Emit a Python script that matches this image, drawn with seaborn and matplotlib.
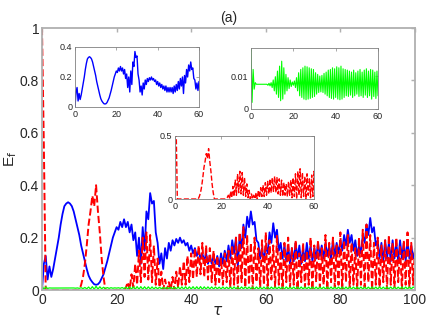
import numpy as np
import matplotlib
matplotlib.use("Agg")
import matplotlib.pyplot as plt
import seaborn as sns

# time grid, step 0.5
tau = np.arange(0, 100.5, 0.5)

blue_vals = [
    0.00, 0.10, 0.13, 0.04, 0.09, 0.05, 0.08, 0.12, 0.16, 0.20,
    0.25, 0.29, 0.32, 0.33, 0.335, 0.33, 0.32, 0.30, 0.27, 0.24,
    0.21, 0.17, 0.14, 0.11, 0.08, 0.055, 0.04, 0.03, 0.022, 0.02,
    0.022, 0.03, 0.045, 0.06, 0.085, 0.11, 0.14, 0.17, 0.20, 0.22,
    0.24, 0.23, 0.26, 0.24, 0.27, 0.24, 0.26, 0.22, 0.25, 0.19,
    0.22, 0.13, 0.20, 0.10, 0.24, 0.15, 0.30, 0.27, 0.37, 0.33,
    0.34, 0.22, 0.18, 0.10, 0.14, 0.08, 0.16, 0.12, 0.18, 0.15,
    0.19, 0.17, 0.195, 0.18, 0.20, 0.18, 0.19, 0.17, 0.18, 0.15,
    0.17, 0.14, 0.16, 0.13, 0.15, 0.12, 0.14, 0.11, 0.14, 0.10,
    0.13, 0.10, 0.13, 0.10, 0.13, 0.09, 0.14, 0.10, 0.15, 0.11,
    0.17, 0.12, 0.19, 0.14, 0.20, 0.09, 0.21, 0.16, 0.25, 0.20,
    0.28, 0.24, 0.30, 0.25, 0.26, 0.19, 0.18, 0.12, 0.16, 0.11,
    0.17, 0.14, 0.22, 0.18, 0.255, 0.20, 0.23, 0.15, 0.18, 0.12,
    0.17, 0.11, 0.17, 0.10, 0.16, 0.11, 0.18, 0.12, 0.17, 0.10,
    0.16, 0.11, 0.18, 0.12, 0.17, 0.11, 0.16, 0.12, 0.18, 0.13,
    0.17, 0.12, 0.18, 0.13, 0.17, 0.12, 0.19, 0.13, 0.18, 0.14,
    0.19, 0.15, 0.21, 0.17, 0.23, 0.18, 0.21, 0.15, 0.19, 0.13,
    0.17, 0.14, 0.21, 0.18, 0.25, 0.21, 0.275, 0.22, 0.24, 0.17,
    0.19, 0.12, 0.18, 0.11, 0.19, 0.12, 0.18, 0.11, 0.19, 0.12,
    0.18, 0.11, 0.19, 0.12, 0.18, 0.11, 0.19, 0.12, 0.17, 0.12,
    0.15,
]

red_vals = [
    1.00, 0.55, 0.0, 0.0, 0.0, 0.0, 0.0, 0.0, 0.0, 0.0,
    0.0, 0.0, 0.0, 0.0, 0.0, 0.0, 0.0, 0.0, 0.0, 0.0,
    0.0, 0.02, 0.05, 0.10, 0.17, 0.25, 0.30, 0.36, 0.32, 0.40,
    0.30, 0.22, 0.12, 0.05, 0.0, 0.0, 0.0, 0.0, 0.0, 0.0,
    0.0, 0.0, 0.0, 0.0, 0.0, 0.01, 0.03, 0.0, 0.06, 0.01,
    0.10, 0.02, 0.15, 0.03, 0.20, 0.05, 0.22, 0.04, 0.21, 0.03,
    0.17, 0.02, 0.12, 0.01, 0.07, 0.0, 0.04, 0.0, 0.03, 0.0,
    0.05, 0.0, 0.07, 0.01, 0.09, 0.02, 0.11, 0.02, 0.13, 0.03,
    0.14, 0.04, 0.16, 0.05, 0.17, 0.06, 0.18, 0.05, 0.17, 0.04,
    0.16, 0.03, 0.15, 0.02, 0.13, 0.03, 0.12, 0.02, 0.14, 0.03,
    0.15, 0.01, 0.17, 0.02, 0.20, 0.0, 0.22, 0.03, 0.24, 0.01,
    0.21, 0.02, 0.18, 0.0, 0.20, 0.03, 0.16, 0.01, 0.19, 0.02,
    0.22, 0.0, 0.19, 0.04, 0.17, 0.01, 0.21, 0.02, 0.15, 0.0,
    0.18, 0.03, 0.20, 0.01, 0.16, 0.02, 0.19, 0.0, 0.14, 0.03,
    0.18, 0.01, 0.15, 0.02, 0.20, 0.0, 0.17, 0.03, 0.19, 0.01,
    0.16, 0.02, 0.21, 0.0, 0.18, 0.03, 0.20, 0.01, 0.17, 0.02,
    0.22, 0.0, 0.19, 0.03, 0.21, 0.01, 0.18, 0.02, 0.16, 0.0,
    0.20, 0.02, 0.23, 0.01, 0.25, 0.03, 0.21, 0.0, 0.18, 0.02,
    0.20, 0.01, 0.17, 0.03, 0.19, 0.0, 0.21, 0.02, 0.18, 0.01,
    0.20, 0.03, 0.17, 0.0, 0.19, 0.02, 0.22, 0.01, 0.18, 0.02,
    0.16,
]

green_vals = [
    0.018, 0.002, 0.012, 0.006, 0.008, 0.0075, 0.0075, 0.0075, 0.0075, 0.0075,
    0.0075, 0.0075, 0.0075, 0.0075, 0.0075, 0.0075, 0.0072, 0.0078, 0.007, 0.008,
    0.0065, 0.0088, 0.0055, 0.0098, 0.0045, 0.0115, 0.0035, 0.013, 0.0025, 0.0145,
    0.003, 0.0125, 0.0045, 0.0105, 0.0055, 0.0095, 0.0062, 0.0088, 0.0068, 0.0082,
    0.0072, 0.0085, 0.0065, 0.0095, 0.0055, 0.011, 0.004, 0.012, 0.0035, 0.0125,
    0.003, 0.013, 0.0028, 0.0128, 0.003, 0.0125, 0.0032, 0.0122, 0.0035, 0.012,
    0.0038, 0.011, 0.0045, 0.0105, 0.005, 0.0100, 0.0052, 0.0102, 0.005, 0.0108,
    0.0045, 0.0112, 0.004, 0.0118, 0.0035, 0.012, 0.0032, 0.0125, 0.003, 0.0122,
    0.0035, 0.0128, 0.003, 0.0125, 0.0028, 0.013, 0.003, 0.0122, 0.0035, 0.012,
    0.004, 0.0118, 0.0038, 0.0115, 0.0042, 0.0112, 0.0035, 0.0118, 0.004, 0.011,
    0.0045, 0.0115, 0.0038, 0.012, 0.004, 0.0112, 0.0035, 0.0118, 0.0042, 0.0122,
    0.0035, 0.0115, 0.004, 0.012, 0.003, 0.0118, 0.0038, 0.0112, 0.0032, 0.0115,
    0.004, 0.0118, 0.0035, 0.0112, 0.0042, 0.012, 0.0036, 0.0115, 0.004, 0.0118,
    0.0034, 0.012, 0.0038, 0.0114, 0.0042, 0.0118, 0.0035, 0.0122, 0.004, 0.0115,
    0.0036, 0.0118, 0.0042, 0.0112, 0.0035, 0.012, 0.0038, 0.0116, 0.0034, 0.0118,
    0.004, 0.0114, 0.0036, 0.012, 0.0042, 0.0115, 0.0035, 0.0118, 0.004, 0.0112,
    0.0036, 0.012, 0.0034, 0.0116, 0.004, 0.0118, 0.0038, 0.0114, 0.0035, 0.012,
    0.0042, 0.0115, 0.0036, 0.0118, 0.004, 0.0112, 0.0034, 0.012, 0.0038, 0.0116,
    0.0035, 0.0118, 0.004, 0.0114, 0.0036, 0.012, 0.0042, 0.0115, 0.0035, 0.0118,
    0.004, 0.0112, 0.0036, 0.012, 0.0034, 0.0116, 0.004, 0.0118, 0.0038, 0.0114,
    0.0075,
]

main_xticks = [0, 20, 40, 60, 80, 100]
main_yticks = [0, 0.2, 0.4, 0.6, 0.8, 1]
main_ytick_labels = ["0", "0.2", "0.4", "0.6", "0.8", "1"]
inset_xticks = [0, 20, 40, 60]

sns.set_theme(style="white")
plt.rcParams["font.family"] = ["Liberation Sans", "DejaVu Sans"]

TXT = "#262626"


def style_axes(ax, spine_color, lw, fs, tick_len):
    for s in ax.spines.values():
        s.set_color(spine_color)
        s.set_linewidth(lw)
        s.set_visible(True)
    ax.tick_params(direction="in", length=tick_len, width=lw * 0.8, color=spine_color,
                   labelsize=fs, labelcolor=TXT, top=True, right=True, pad=2)
    ax.set_xlabel("")
    ax.set_ylabel("")


fig = plt.figure(figsize=(4.36, 3.27), dpi=100)
ax = fig.add_axes([0.0963, 0.1131, 0.8555, 0.8012])

sns.lineplot(x=tau, y=blue_vals, ax=ax, color="#0000ff", linewidth=1.3, estimator=None)
sns.lineplot(x=tau, y=red_vals, ax=ax, color="#ff0000", linewidth=1.4, linestyle="--",
             dashes=(3, 1.5), estimator=None)
sns.lineplot(x=tau, y=green_vals, ax=ax, color="#00ff00", linewidth=0.9, estimator=None)
ax.set_xlim(0, 100)
ax.set_ylim(0, 1)
ax.set_xticks(main_xticks)
ax.set_yticks(main_yticks)
ax.set_yticklabels(main_ytick_labels)
style_axes(ax, "#b0b0b0", 1.3, 10, 3)
ax.set_xlabel(r"$\tau$", fontsize=11, color=TXT, labelpad=0)
ax.xaxis.set_label_coords(0.47, -0.055)
ax.set_ylabel(r"E$_{\rm f}$", fontsize=11, color=TXT)
ax.yaxis.set_label_coords(-0.062, 0.5)
ax.set_title("(a)", fontsize=10, color=TXT, pad=4)

# inset: blue
ax1 = fig.add_axes([0.172, 0.6728, 0.2844, 0.1835])
sns.lineplot(x=tau, y=blue_vals, ax=ax1, color="#0000ff", linewidth=1.0, estimator=None)
ax1.set_xlim(0, 60)
ax1.set_ylim(0, 0.4)
ax1.set_xticks(inset_xticks)
ax1.set_yticks([0, 0.2, 0.4])
ax1.set_yticklabels(["0", "0.2", "0.4"])
style_axes(ax1, "#808080", 0.6, 6.5, 2)

# inset: green
ax2 = fig.add_axes([0.5757, 0.6667, 0.2913, 0.1865])
sns.lineplot(x=tau, y=green_vals, ax=ax2, color="#00ff00", linewidth=0.8, estimator=None)
ax2.set_xlim(0, 60)
ax2.set_ylim(0, 0.0185)
ax2.set_xticks(inset_xticks)
ax2.set_yticks([0, 0.01])
ax2.set_yticklabels(["0", "0.01"])
style_axes(ax2, "#808080", 0.6, 6.5, 2)

# inset: red
ax3 = fig.add_axes([0.4014, 0.3914, 0.3188, 0.1927])
sns.lineplot(x=tau, y=red_vals, ax=ax3, color="#ff0000", linewidth=1.0, linestyle="--",
             dashes=(3, 1.5), estimator=None)
ax3.set_xlim(0, 60)
ax3.set_ylim(0, 0.5)
ax3.set_xticks(inset_xticks)
ax3.set_yticks([0, 0.5])
ax3.set_yticklabels(["0", "0.5"])
style_axes(ax3, "#808080", 0.6, 6.5, 2)

fig.savefig("out.png", dpi=100)
